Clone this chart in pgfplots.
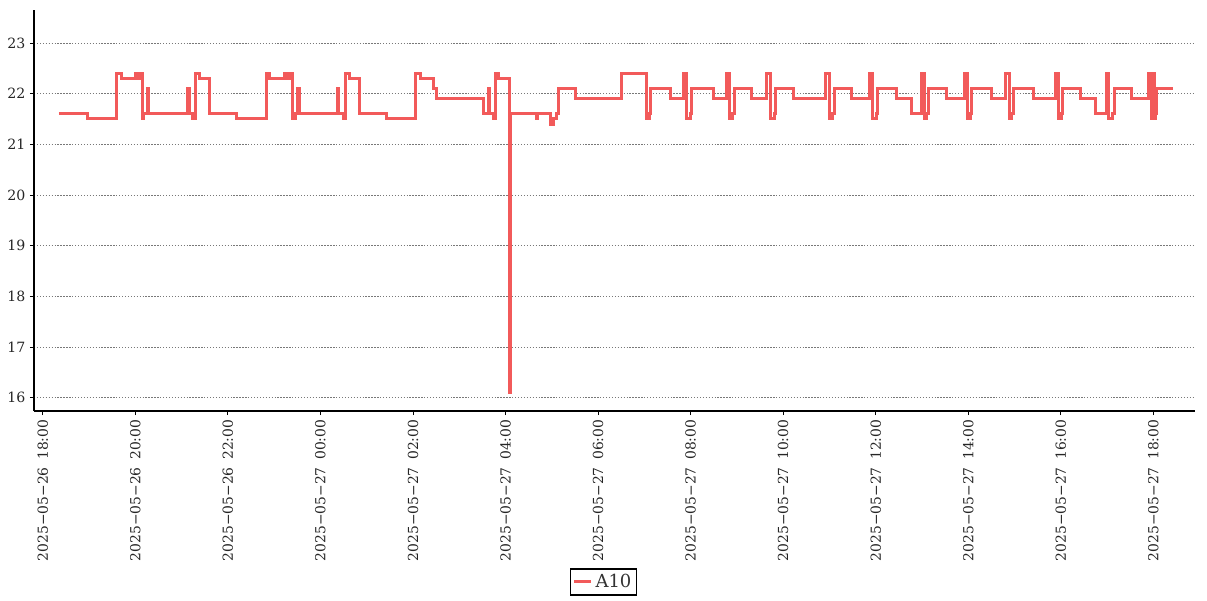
\documentclass[border=0pt]{standalone}
\usepackage{fontspec}
\setmainfont{DejaVu Serif}
\usepackage{pgfplots}
\pgfplotsset{compat=1.18}
\definecolor{linered}{RGB}{242,90,90}
\definecolor{gridgray}{RGB}{120,120,120}
\begin{document}
\begin{tikzpicture}
\path[use as bounding box] (-25.5pt,-141.75pt) rectangle (879.75pt,308.25pt);
\begin{axis}[
  scale only axis,
  width=870.75pt, height=300.75pt,
  xmin=-0.19, xmax=24.9,
  ymin=15.74, ymax=23.65,
  axis x line*=bottom, axis y line*=left,
  axis line style={-, black, line width=1.1pt},
  xtick={0,2,...,24},
  xticklabels={
    {2025−05−26\hspace{0.55em}18:00},{2025−05−26\hspace{0.55em}20:00},{2025−05−26\hspace{0.55em}22:00},
    {2025−05−27\hspace{0.55em}00:00},{2025−05−27\hspace{0.55em}02:00},{2025−05−27\hspace{0.55em}04:00},
    {2025−05−27\hspace{0.55em}06:00},{2025−05−27\hspace{0.55em}08:00},{2025−05−27\hspace{0.55em}10:00},
    {2025−05−27\hspace{0.55em}12:00},{2025−05−27\hspace{0.55em}14:00},{2025−05−27\hspace{0.55em}16:00},
    {2025−05−27\hspace{0.55em}18:00}},
  xticklabel style={rotate=90, anchor=east, font=\fontsize{10.4}{12}\selectfont, text=black!85},
  ytick={16,17,...,23},
  yticklabel style={font=\fontsize{10.6}{12}\selectfont, text=black!85},
  /pgf/number format/assume math mode=true,
  tick align=outside,
  major tick length=3pt,
  tick style={black, line width=0.6pt},
  ymajorgrids,
  grid style={gridgray, line width=0.6pt, dash pattern=on 1pt off 1.2pt},
  legend style={at={(0.4905,-0.4264)}, anchor=center, draw=black, line width=0.8pt,
    font=\fontsize{13.5}{16}\selectfont, inner xsep=1.5pt, inner ysep=2pt, text=black!80},
  legend image code/.code={\draw[#1, line width=2.25pt] (0pt,0pt) -- (12.75pt,0pt);},
  clip=false,
]
\addplot[const plot, color=linered, line width=2.25pt, line join=miter, miter limit=2] coordinates {
(0.350,21.6) (0.970,21.5) (1.597,22.4) (1.705,22.3) (1.993,22.4) (2.042,22.3)
(2.101,22.4) (2.144,21.5) (2.187,21.6) (2.258,22.1) (2.284,21.6) (3.132,22.1)
(3.160,21.6) (3.240,21.5) (3.304,22.4) (3.382,22.3) (3.598,21.6) (4.186,21.5)
(4.824,22.4) (4.910,22.3) (5.234,22.4) (5.278,22.3) (5.321,22.4) (5.401,21.5)
(5.451,21.6) (5.509,22.1) (5.537,21.6) (6.365,22.1) (6.391,21.6) (6.494,21.5)
(6.546,22.4) (6.618,22.3) (6.840,21.6) (7.432,21.5) (8.059,22.4) (8.152,22.3)
(8.439,22.1) (8.513,21.9) (9.520,21.6) (9.628,22.1) (9.654,21.6) (9.730,21.5)
(9.773,22.4) (9.844,22.3) (10.082,16.1) (10.114,21.6) (10.659,21.5) (10.687,21.6)
(10.962,21.4) (11.033,21.5) (11.106,21.6) (11.141,22.1) (11.502,21.9) (12.511,22.4)
(13.036,21.5) (13.108,21.6) (13.138,22.1) (13.570,21.9) (13.842,22.4) (13.912,21.5)
(13.998,21.6) (14.024,22.1) (14.491,21.9) (14.765,22.4) (14.841,21.5) (14.910,21.6)
(14.938,22.1) (15.321,21.9) (15.645,22.4) (15.727,21.5) (15.803,21.6) (15.839,22.1)
(16.220,21.9) (16.905,22.4) (16.997,21.5) (17.071,21.6) (17.106,22.1) (17.482,21.9)
(17.856,22.4) (17.927,21.5) (18.007,21.6) (18.044,22.1) (18.439,21.9) (18.763,21.6)
(18.980,22.4) (19.051,21.5) (19.103,21.6) (19.137,22.1) (19.520,21.9) (19.909,22.4)
(19.989,21.5) (20.039,21.6) (20.075,22.1) (20.507,21.9) (20.810,22.4) (20.888,21.5)
(20.940,21.6) (20.974,22.1) (21.407,21.9) (21.875,22.4) (21.947,21.5) (22.005,21.6)
(22.042,22.1) (22.416,21.9) (22.740,21.6) (22.993,22.4) (23.027,21.5) (23.122,21.6)
(23.150,22.1) (23.533,21.9) (23.892,22.4) (23.966,21.5) (23.993,22.4) (24.026,21.5)
(24.048,21.6) (24.073,22.1) (24.419,22.1)
};
\addlegendentry{A10}
\end{axis}
\end{tikzpicture}
\end{document}
